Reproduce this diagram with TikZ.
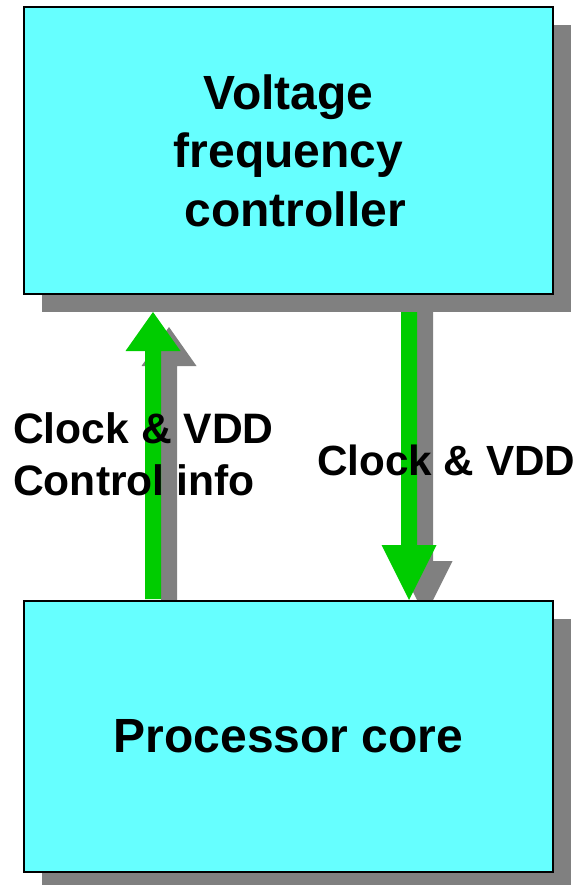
\documentclass[tikz,border=0pt]{standalone}
\usepackage{fontspec}
\setmainfont{Liberation Sans}
\usetikzlibrary{calc}

\definecolor{boxcyan}{HTML}{66FFFF}
\definecolor{arrowgreen}{HTML}{00CC00}
\definecolor{shadowgray}{HTML}{808080}

% block arrow: #1 fill, #2 tail, #3 tip, #4 shift, #5 head length
\newcommand\blockarrow[5]{%
  \fill[#1]
    ($(#2)+(#4)+(-8,0)$) --
    ($(#3)!#5pt!(#2)+(#4)+(-8,0)$) --
    ($(#3)!#5pt!(#2)+(#4)+(-27.5,0)$) --
    ($(#3)+(#4)$) --
    ($(#3)!#5pt!(#2)+(#4)+(27.5,0)$) --
    ($(#3)!#5pt!(#2)+(#4)+(8,0)$) --
    ($(#2)+(#4)+(8,0)$) -- cycle;}

\tikzset{
  unitbox/.style={draw=black, line width=2pt, fill=boxcyan,
    minimum width=529pt, minimum height=287pt, inner sep=0pt,
    align=center, font=\bfseries\fontsize{48}{58.5}\selectfont},
  label/.style={inner sep=0pt, anchor=base west,
    font=\bfseries\fontsize{42.6}{52}\selectfont},
}

\begin{document}
\begin{tikzpicture}[x=1pt,y=-1pt]
  \useasboundingbox (0,0) rectangle (576,885);
  \clip (0,0) rectangle (576,885);

  % arrow end points
  \coordinate (upTail) at (153,599);
  \coordinate (upTip) at (153,312);
  \coordinate (downTail) at (409,292);
  \coordinate (downTip) at (409,600);

  % arrow shadows, then arrows
  \blockarrow{shadowgray}{upTail}{upTip}{16,15}{39}
  \blockarrow{shadowgray}{downTail}{downTip}{16,16}{55}
  \blockarrow{arrowgreen}{upTail}{upTip}{0,0}{39}
  \blockarrow{arrowgreen}{downTail}{downTip}{0,0}{55}

  % controller block
  \path (288.5,150.5) coordinate (vfcpos);
  \fill[shadowgray] ($(vfcpos)+(-264.5,-143.5)+(18,18)$) rectangle ($(vfcpos)+(264.5,143.5)+(18,18)$);
  \node[unitbox] (vfc) at (vfcpos) {Voltage\\frequency\\\hphantom{i}controller};

  % core block
  \path (288.5,736.5) coordinate (corepos);
  \fill[shadowgray] ($(corepos)+(-264.5,-135.5)+(18,18)$) rectangle ($(corepos)+(264.5,135.5)+(18,18)$);
  \node[unitbox, minimum height=271pt] (core) at (corepos) {Processor core};

  % arrow labels
  \node[label] (ctlA) at (13,443) {Clock \& VDD};
  \node[label] (ctlB) at (13,495) {Control info};
  \node[label, font=\bfseries\fontsize{42.2}{52}\selectfont] (clk) at (317,475) {Clock \& VDD};
\end{tikzpicture}
\end{document}
